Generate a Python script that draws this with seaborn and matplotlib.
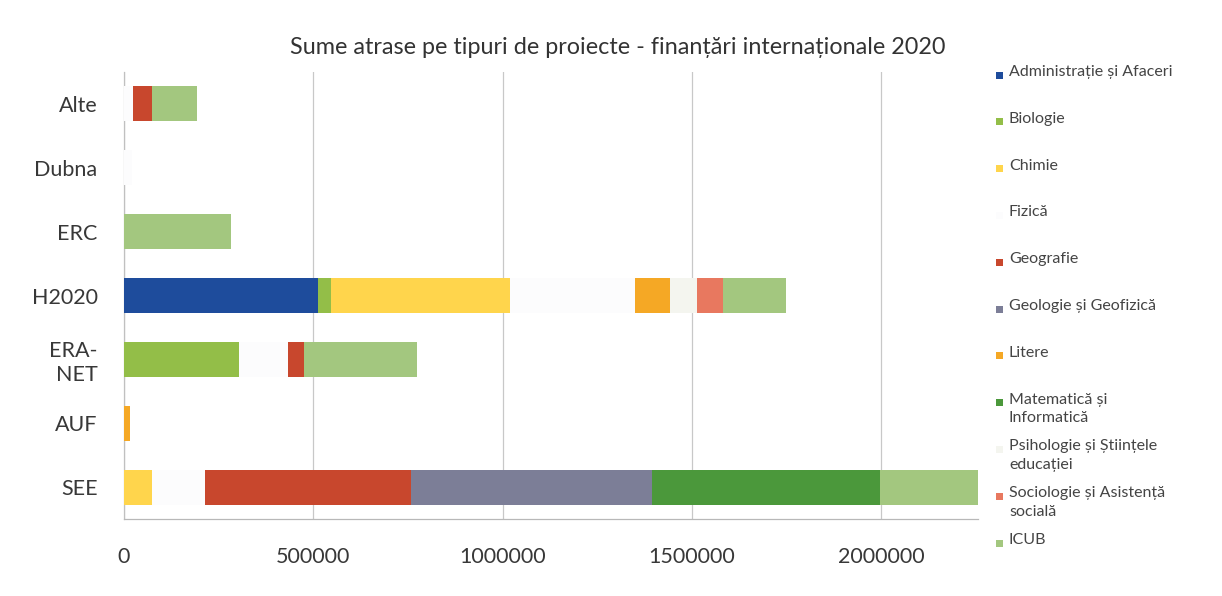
import matplotlib
matplotlib.use("Agg")
import matplotlib.pyplot as plt
import seaborn as sns
import numpy as np
import pandas as pd

# ---- data ----
categories = ["Alte", "Dubna", "ERC", "H2020", "ERA-NET", "AUF", "SEE"]
tick_labels = ["Alte", "Dubna", "ERC", "H2020", "ERA-\nNET", "AUF", "SEE"]

disciplines = ["Administrație și Afaceri", "Biologie", "Chimie", "Fizică", "Geografie",
               "Geologie și Geofizică", "Litere", "Matematică și Informatică",
               "Psihologie și Științele educației", "Sociologie și Asistență socială", "ICUB"]
legend_labels = ["Administrație și Afaceri", "Biologie", "Chimie", "Fizică", "Geografie",
                 "Geologie și Geofizică", "Litere", "Matematică și\nInformatică",
                 "Psihologie și Științele\neducației", "Sociologie și Asistență\nsocială", "ICUB"]

administratie = [0, 0, 0, 513000, 0, 0, 0]
biologie      = [0, 0, 0, 34000, 303000, 0, 0]
chimie        = [0, 0, 0, 473000, 0, 0, 75000]
fizica        = [24000, 20000, 0, 330000, 131000, 0, 140000]
geografie     = [49000, 0, 0, 0, 41000, 0, 542000]
geologie      = [0, 0, 0, 0, 0, 0, 637000]
litere        = [0, 0, 0, 93000, 0, 16000, 0]
matematica    = [0, 0, 0, 0, 0, 0, 603000]
psihologie    = [0, 0, 0, 70000, 0, 0, 0]
sociologie    = [0, 0, 0, 69000, 0, 0, 0]
icub          = [119000, 0, 282000, 167000, 298000, 0, 259000]

series = [administratie, biologie, chimie, fizica, geografie, geologie,
          litere, matematica, psihologie, sociologie, icub]

colors = ["#1E4C9C", "#93BE48", "#FFD54C", "#FCFCFD", "#C8472D", "#7C7E97",
          "#F5A825", "#4B983B", "#F4F5EF", "#E8785F", "#A3C77F"]

# ---- figure ----
plt.rcParams["font.family"] = ["Lato", "DejaVu Sans"]
fig = plt.figure(figsize=(12.22, 5.96), dpi=100)
ax = fig.add_axes([124/1222, 1-519/596, (978-124)/1222, (519-72)/596])

df = pd.DataFrame(np.array(series).T, columns=disciplines)
df["cat"] = categories
cum = df[disciplines].cumsum(axis=1)

# draw cumulative bars from the full total down to the first segment
for i in range(len(disciplines) - 1, -1, -1):
    d = pd.DataFrame({"cat": categories, "val": cum[disciplines[i]].values})
    sns.barplot(data=d, y="cat", x="val", order=categories, orient="h",
                color=colors[i], saturation=1, width=0.55, linewidth=0,
                errorbar=None, ax=ax, zorder=3)

ax.set_xlim(0, 2256000)
ax.set_ylim(6.5, -0.5)
ax.set_xticks([0, 500000, 1000000, 1500000, 2000000])
ax.set_xticklabels(["0", "500000", "1000000", "1500000", "2000000"])
ax.set_yticks(range(len(categories)))
ax.set_yticklabels(tick_labels, ha="right", multialignment="right")
ax.tick_params(axis="x", length=0, pad=20, labelsize=15.5, colors="#383838")
ax.tick_params(axis="y", length=0, pad=19, labelsize=15.5, colors="#383838")
ax.set_xlabel("")
ax.set_ylabel("")
ax.grid(axis="x", color="#C8C8C8", linewidth=0.9, zorder=0)
ax.grid(axis="y", visible=False)
ax.set_axisbelow(True)
for s in ["top", "right"]:
    ax.spines[s].set_visible(False)
ax.spines["left"].set_color("#C0C0C0")
ax.spines["bottom"].set_color("#B8B8B8")
ax.spines["left"].set_linewidth(0.9)
ax.spines["bottom"].set_linewidth(0.9)

fig.text(618/1222, 1-47/596, "Sume atrase pe tipuri de proiecte - finanțări internaționale 2020",
         ha="center", va="center", fontsize=16.8, color="#333333")

# ---- legend (evenly spaced entries) ----
y0 = 75
step = 46.8
for i, (lab, col) in enumerate(zip(legend_labels, colors)):
    yc = y0 + i * step
    fig.patches.append(plt.Rectangle((996/1222, 1-(yc+3.5)/596), 7/1222, 7/596,
                                     transform=fig.transFigure, facecolor=col,
                                     edgecolor="none", figure=fig))
    fig.text(1009/1222, 1-(yc-10)/596, lab, ha="left", va="top", fontsize=11.5,
             color="#444444", linespacing=1.4)

fig.savefig("out.png", dpi=100, facecolor="white")
